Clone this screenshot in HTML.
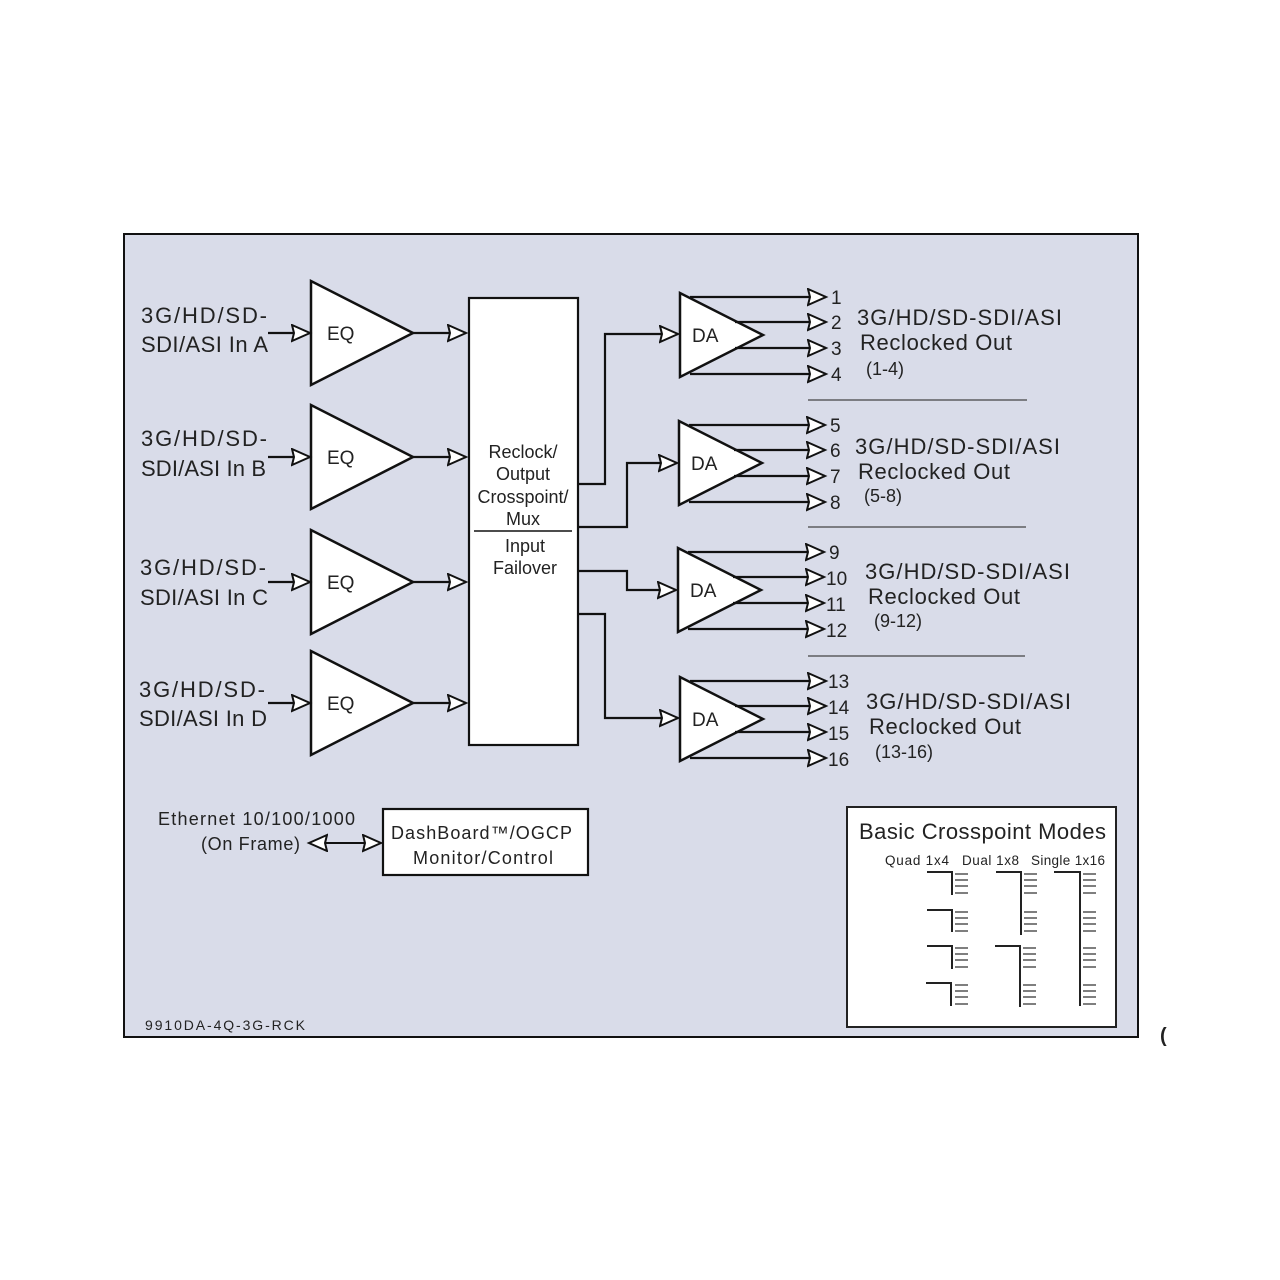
<!DOCTYPE html>
<html><head><meta charset="utf-8"><style>
html,body{margin:0;padding:0;background:#fff}
svg{display:block}
text{font-family:"Liberation Sans",sans-serif;fill:#222}
</style></head><body>
<svg width="1280" height="1280" viewBox="0 0 1280 1280" xmlns="http://www.w3.org/2000/svg">
<defs>
<marker id="ah" markerUnits="userSpaceOnUse" markerWidth="22" markerHeight="20" refX="19" refY="9" orient="auto-start-reverse" viewBox="0 0 22 20">
<path d="M1,1 L19,9 L1,17 L3,9 Z" fill="#fff" stroke="#111" stroke-width="2" stroke-linejoin="miter"/>
</marker>
<g id="da">
<polygon points="0,0 0,84 83,42" fill="#fff" stroke="#111" stroke-width="2.5"/>
<g stroke="#111" stroke-width="2.2" fill="none">
<line x1="10" y1="4" x2="146" y2="4" marker-end="url(#ah)"/>
<line x1="55" y1="29" x2="146" y2="29" marker-end="url(#ah)"/>
<line x1="55" y1="55" x2="146" y2="55" marker-end="url(#ah)"/>
<line x1="10" y1="81" x2="146" y2="81" marker-end="url(#ah)"/>
</g>
<text x="12" y="49" font-size="19">DA</text>
</g>
<g id="eq">
<polygon points="0,0 0,104 102,52" fill="#fff" stroke="#111" stroke-width="2.5"/>
<text x="16" y="59" font-size="19">EQ</text>
<line x1="102" y1="52" x2="155" y2="52" stroke="#111" stroke-width="2.2" marker-end="url(#ah)"/>
<line x1="-43" y1="52" x2="-1" y2="52" stroke="#111" stroke-width="2.2" marker-end="url(#ah)"/>
</g>
</defs>
<rect x="124" y="234" width="1014" height="803" fill="#d9dce9" stroke="#111" stroke-width="2"/>

<g font-size="22">
<text x="141" y="323" textLength="126">3G/HD/SD-</text><text x="141" y="352" textLength="127">SDI/ASI In A</text>
<text x="141" y="446" textLength="126">3G/HD/SD-</text><text x="141" y="476" textLength="125">SDI/ASI In B</text>
<text x="140" y="575" textLength="126">3G/HD/SD-</text><text x="140" y="605" textLength="128">SDI/ASI In C</text>
<text x="139" y="697" textLength="126">3G/HD/SD-</text><text x="139" y="726" textLength="128">SDI/ASI In D</text>
</g>
<use href="#eq" x="311" y="281"/>
<use href="#eq" x="311" y="405"/>
<use href="#eq" x="311" y="530"/>
<use href="#eq" x="311" y="651"/>

<rect x="469" y="298" width="109" height="447" fill="#fff" stroke="#111" stroke-width="2.2"/>
<g font-size="18" text-anchor="middle">
<text x="523" y="458">Reclock/</text>
<text x="523" y="480">Output</text>
<text x="523" y="503">Crosspoint/</text>
<text x="523" y="525">Mux</text>
<text x="525" y="552">Input</text>
<text x="525" y="574">Failover</text>
</g>
<line x1="474" y1="531" x2="572" y2="531" stroke="#111" stroke-width="1.5"/>

<g stroke="#111" stroke-width="2.2" fill="none">
<polyline points="578,484 605,484 605,334 678,334" marker-end="url(#ah)"/>
<polyline points="578,527 627,527 627,463 677,463" marker-end="url(#ah)"/>
<polyline points="578,571 627,571 627,590 676,590" marker-end="url(#ah)"/>
<polyline points="578,614 605,614 605,718 678,718" marker-end="url(#ah)"/>
</g>

<use href="#da" x="680" y="293"/>
<use href="#da" x="679" y="421"/>
<use href="#da" x="678" y="548"/>
<use href="#da" x="680" y="677"/>

<g font-size="19">
<text x="831" y="304">1</text><text x="831" y="329">2</text><text x="831" y="355">3</text><text x="831" y="381">4</text>
<text x="830" y="432">5</text><text x="830" y="457">6</text><text x="830" y="483">7</text><text x="830" y="509">8</text>
<text x="829" y="559">9</text><text x="826" y="585">10</text><text x="826" y="611">11</text><text x="826" y="637">12</text>
<text x="828" y="688">13</text><text x="828" y="714">14</text><text x="828" y="740">15</text><text x="828" y="766">16</text>
</g>
<g font-size="22">
<text x="857" y="325" textLength="205">3G/HD/SD-SDI/ASI</text><text x="860" y="350" textLength="152">Reclocked Out</text>
<text x="855" y="454" textLength="205">3G/HD/SD-SDI/ASI</text><text x="858" y="479" textLength="152">Reclocked Out</text>
<text x="865" y="579" textLength="205">3G/HD/SD-SDI/ASI</text><text x="868" y="604" textLength="152">Reclocked Out</text>
<text x="866" y="709" textLength="205">3G/HD/SD-SDI/ASI</text><text x="869" y="734" textLength="152">Reclocked Out</text>
</g>
<g font-size="18">
<text x="866" y="375">(1-4)</text>
<text x="864" y="502">(5-8)</text>
<text x="874" y="627">(9-12)</text>
<text x="875" y="758">(13-16)</text>
</g>
<g stroke="#444" stroke-width="1.2">
<line x1="808" y1="400" x2="1027" y2="400"/>
<line x1="808" y1="527" x2="1026" y2="527"/>
<line x1="808" y1="656" x2="1025" y2="656"/>
</g>

<g font-size="18">
<text x="158" y="825" textLength="197">Ethernet 10/100/1000</text>
<text x="201" y="850" textLength="99">(On Frame)</text>
</g>
<line x1="309" y1="843" x2="381" y2="843" stroke="#111" stroke-width="2" marker-start="url(#ah)" marker-end="url(#ah)"/>
<rect x="383" y="809" width="205" height="66" fill="#fff" stroke="#111" stroke-width="2.2"/>
<g font-size="18">
<text x="391" y="839" textLength="181">DashBoard™/OGCP</text>
<text x="413" y="864" textLength="140">Monitor/Control</text>
</g>
<text x="145" y="1030" font-size="14" textLength="160">9910DA-4Q-3G-RCK</text>

<rect x="847" y="807" width="269" height="220" fill="#fff" stroke="#222" stroke-width="2"/>
<text x="859" y="839" font-size="22" textLength="247">Basic Crosspoint Modes</text>
<g font-size="13.5">
<text x="885" y="865" textLength="64">Quad 1x4</text>
<text x="962" y="865" textLength="57">Dual 1x8</text>
<text x="1031" y="865" textLength="74">Single 1x16</text>
</g>
<g stroke="#222" stroke-width="2" fill="none">
<polyline points="927,872 952,872 952,895"/>
<polyline points="927,910 952,910 952,932"/>
<polyline points="927,946 952,946 952,969"/>
<polyline points="926,983 951,983 951,1006"/>
<polyline points="996,872 1021,872 1021,935"/>
<polyline points="995,946 1020,946 1020,1007"/>
<polyline points="1054,872 1080,872 1080,1006"/>
</g>
<g stroke="#333" stroke-width="1.3">
<path d="M955 874h13M955 880h13M955 886h13M955 893h13
M955 912h13M955 918h13M955 924h13M955 931h13
M955 948h13M955 954h13M955 960h13M955 967h13
M955 985h13M955 991h13M955 997h13M955 1004h13
M1024 874h13M1024 880h13M1024 886h13M1024 893h13
M1024 912h13M1024 918h13M1024 924h13M1024 931h13
M1023 948h13M1023 954h13M1023 960h13M1023 967h13
M1023 985h13M1023 991h13M1023 997h13M1023 1004h13
M1083 874h13M1083 880h13M1083 886h13M1083 893h13
M1083 912h13M1083 918h13M1083 924h13M1083 931h13
M1083 948h13M1083 954h13M1083 960h13M1083 967h13
M1083 985h13M1083 991h13M1083 997h13M1083 1004h13"/>
</g>
<text x="1160" y="1042" font-size="20" font-weight="bold" fill="#111">(</text>
</svg>
</body></html>
